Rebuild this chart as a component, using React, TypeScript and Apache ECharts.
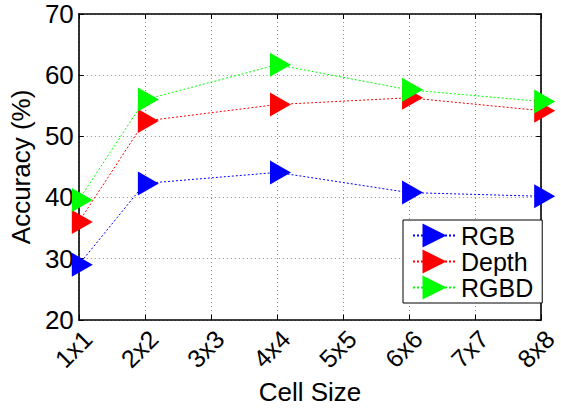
import React, { useEffect, useRef } from "react";
import * as echarts from "echarts";

// Cell sizes on the x axis; only some of them were evaluated.
const cellSizes = ["1x1", "2x2", "3x3", "4x4", "5x5", "6x6", "7x7", "8x8"];

// Accuracy (%) per cell size; null where no run was made.
const rgbAcc = [29.0, 42.3, null, 44.1, null, 40.8, null, 40.2];
const depthAcc = [36.0, 52.5, null, 55.2, null, 56.3, null, 54.2];
const rgbdAcc = [39.6, 56.0, null, 61.7, null, 57.6, null, 55.7];

const yMin = 20;
const yMax = 70;
const yStep = 10;

const FONT = "'Liberation Sans', Arial, Helvetica, sans-serif";
// Right-pointing triangle marker
const TRIANGLE = "path://M0,0L21,12L0,24Z";

function makeSeries(name: string, data: (number | null)[], color: string) {
  return {
    name,
    type: "line",
    data,
    connectNulls: true,
    clip: false,
    symbol: TRIANGLE,
    symbolSize: [21, 24],
    symbolOffset: [3.5, 0],
    itemStyle: { color },
    lineStyle: { color, width: 1, type: [2, 2] },
  };
}

export default function App() {
  const ref = useRef<HTMLDivElement>(null);

  useEffect(() => {
    if (!ref.current) return;
    const chart = echarts.init(ref.current, undefined, { renderer: "svg" });
    const gridLine = { show: true, lineStyle: { color: "#8c8c8c", width: 1, type: [1, 3] } };
    const frame = { show: true, lineStyle: { color: "#000", width: 1.6 } };
    const tick = { show: true, inside: true, length: 5, lineStyle: { color: "#000" } };
    chart.setOption({
      animation: false,
      backgroundColor: "#fff",
      textStyle: { fontFamily: FONT },
      grid: { left: 77, right: 15, top: 14, bottom: 86 },
      legend: {
        left: 403,
        top: 220,
        orient: "vertical",
        padding: [3, 9, 3, 9],
        itemWidth: 43,
        itemHeight: 30,
        itemGap: 1,
        backgroundColor: "#fff",
        borderColor: "#000",
        borderWidth: 1,
        textStyle: { fontSize: 25, color: "#000", fontFamily: FONT },
        data: ["RGB", "Depth", "RGBD"],
      },
      xAxis: [
        {
          type: "category",
          data: cellSizes,
          boundaryGap: false,
          name: "Cell Size",
          nameLocation: "middle",
          nameGap: 55,
          nameTextStyle: { fontSize: 26, color: "#000", fontFamily: FONT },
          axisLine: frame,
          axisTick: tick,
          axisLabel: {
            rotate: 45,
            fontSize: 25,
            color: "#000",
            fontFamily: FONT,
            margin: 6,
            verticalAlign: "top",
            interval: 0,
          },
          splitLine: gridLine,
        },
        {
          type: "category",
          data: cellSizes,
          boundaryGap: false,
          position: "top",
          axisLine: frame,
          axisTick: tick,
          axisLabel: { show: false },
          splitLine: { show: false },
        },
      ],
      yAxis: [
        {
          type: "value",
          min: yMin,
          max: yMax,
          interval: yStep,
          name: "Accuracy (%)",
          nameLocation: "middle",
          nameGap: 42,
          nameTextStyle: { fontSize: 26, color: "#000", fontFamily: FONT },
          axisLine: frame,
          axisTick: tick,
          axisLabel: { fontSize: 26, color: "#000", fontFamily: FONT, margin: 5 },
          splitLine: gridLine,
        },
        {
          type: "value",
          min: yMin,
          max: yMax,
          interval: yStep,
          position: "right",
          axisLine: frame,
          axisTick: tick,
          axisLabel: { show: false },
          splitLine: { show: false },
        },
      ],
      series: [
        makeSeries("RGB", rgbAcc, "#0000ff"),
        makeSeries("Depth", depthAcc, "#ff0000"),
        makeSeries("RGBD", rgbdAcc, "#00ff00"),
      ],
    });
    return () => chart.dispose();
  }, []);

  return (
    <div
      ref={ref}
      style={{ position: "fixed", left: 0, top: 0, width: 561, height: 410, background: "#fff" }}
    />
  );
}
